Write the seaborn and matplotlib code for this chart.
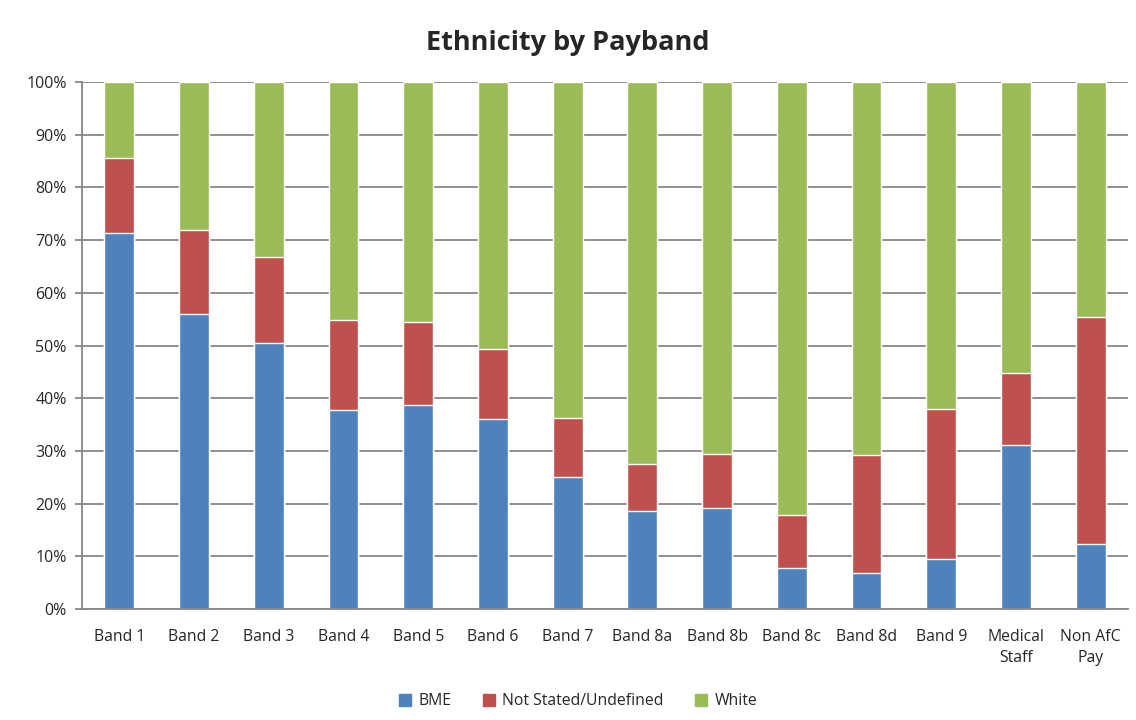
import pandas as pd
import seaborn as sns
import matplotlib.pyplot as plt
from matplotlib.ticker import PercentFormatter
from matplotlib.patches import Patch

bands = ["Band 1", "Band 2", "Band 3", "Band 4", "Band 5", "Band 6", "Band 7",
         "Band 8a", "Band 8b", "Band 8c", "Band 8d", "Band 9", "Medical\nStaff", "Non AfC\nPay"]
bme = [71.3, 56.0, 50.5, 37.8, 38.7, 36.1, 25.0, 18.6, 19.2, 7.8, 6.8, 9.5, 31.1, 12.3]
not_stated = [14.3, 15.9, 16.3, 17.0, 15.8, 13.2, 11.2, 8.9, 10.2, 10.0, 22.4, 28.5, 13.7, 43.1]
white = [100 - b - n for b, n in zip(bme, not_stated)]

colors = {"BME": "#4f81bd", "Not Stated/Undefined": "#c0504d", "White": "#9bbb59"}

df = pd.DataFrame({"Band": bands, "BME": bme, "Not Stated/Undefined": not_stated, "White": white})
df["top_ns"] = df["BME"] + df["Not Stated/Undefined"]
df["top_white"] = df["top_ns"] + df["White"]

sns.set_style("white")
plt.rcParams["font.family"] = ["Open Sans", "DejaVu Sans"]

fig = plt.figure(figsize=(11.36, 7.2), dpi=100)
ax = fig.add_axes([0.0722, 0.154, 0.9208, 0.732])

# stacked by layering cumulative totals
sns.barplot(data=df, x="Band", y="top_white", color=colors["White"], width=0.4, saturation=1, ax=ax)
sns.barplot(data=df, x="Band", y="top_ns", color=colors["Not Stated/Undefined"], width=0.4, saturation=1, ax=ax)
sns.barplot(data=df, x="Band", y="BME", color=colors["BME"], width=0.4, saturation=1, ax=ax)

ax.set_ylim(0, 100)
ax.set_xlim(-0.5, len(bands) - 0.5)
ax.set_yticks(range(0, 101, 10))
ax.yaxis.set_major_formatter(PercentFormatter(decimals=0))
ax.yaxis.grid(True, color="#878787", linewidth=1.3)
ax.set_axisbelow(True)
ax.set_xlabel("")
ax.set_ylabel("")

for s in ["top", "right"]:
    ax.spines[s].set_visible(False)
for s in ["left", "bottom"]:
    ax.spines[s].set_color("#878787")
    ax.spines[s].set_linewidth(1.3)

ax.set_xticks([i - 0.5 for i in range(len(bands) + 1)], minor=True)
ax.tick_params(axis="x", which="major", length=0, labelsize=11.3, pad=14)
ax.tick_params(axis="x", which="minor", length=5, color="#878787", width=1.3, direction="out")
ax.tick_params(axis="y", length=5, color="#878787", width=1.3, direction="out", labelsize=11.5, pad=6, left=True)
for lab in ax.get_xticklabels():
    lab.set_linespacing(1.45)

fig.suptitle("Ethnicity by Payband", x=0.5, y=0.958, fontsize=19.5, fontweight="bold")

handles = [Patch(color=c, label=l) for l, c in colors.items()]
fig.legend(handles=handles, loc="center", bbox_to_anchor=(0.509, 0.026), ncol=3, frameon=False,
           fontsize=11.3, handlelength=0.75, handleheight=0.75, columnspacing=2.0, handletextpad=0.5)

fig.savefig("out.png", dpi=100)
